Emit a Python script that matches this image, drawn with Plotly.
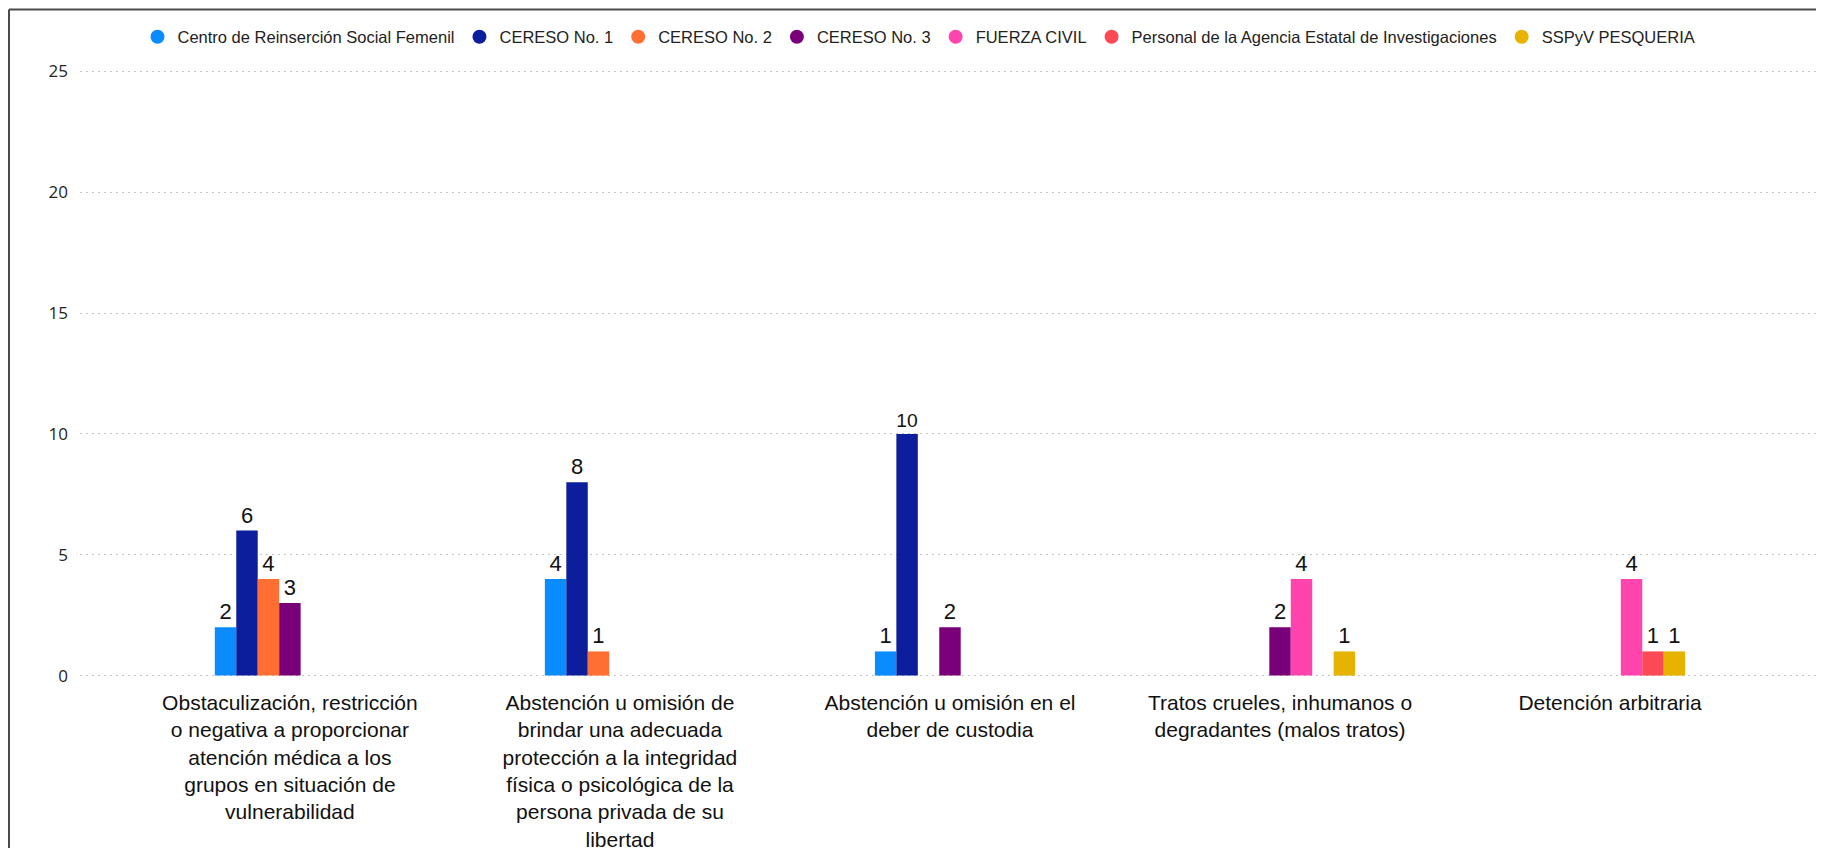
import plotly.graph_objects as go

categories = [
    "Obstaculización, restricción o negativa a proporcionar atención médica a los grupos en situación de vulnerabilidad",
    "Abstención u omisión de brindar una adecuada protección a la integridad física o psicológica de la persona privada de su libertad",
    "Abstención u omisión en el deber de custodia",
    "Tratos crueles, inhumanos o degradantes (malos tratos)",
    "Detención arbitraria",
]
tick_labels = [
    "Obstaculización, restricción<br>o negativa a proporcionar<br>atención médica a los<br>grupos en situación de<br>vulnerabilidad",
    "Abstención u omisión de<br>brindar una adecuada<br>protección a la integridad<br>física o psicológica de la<br>persona privada de su<br>libertad",
    "Abstención u omisión en el<br>deber de custodia",
    "Tratos crueles, inhumanos o<br>degradantes (malos tratos)",
    "Detención arbitraria",
]

series_names = [
    "Centro de Reinserción Social Femenil",
    "CERESO No. 1",
    "CERESO No. 2",
    "CERESO No. 3",
    "FUERZA CIVIL",
    "Personal de la Agencia Estatal de Investigaciones",
    "SSPyV PESQUERIA",
]
centro_femenil = [2, 4, 1, None, None]
cereso_1 = [6, 8, 10, None, None]
cereso_2 = [4, 1, None, None, None]
cereso_3 = [3, None, 2, 2, None]
fuerza_civil = [None, None, None, 4, 4]
agencia_estatal = [None, None, None, None, 1]
sspyv_pesqueria = [None, None, None, 1, 1]

series_values = [centro_femenil, cereso_1, cereso_2, cereso_3,
                 fuerza_civil, agencia_estatal, sspyv_pesqueria]
colors = ["#0A8CFF", "#0D1E9C", "#FF6E32", "#7A007A", "#FF45AD", "#FB4A56", "#E6B400"]

W, H = 1824, 848
# y: 0 -> 668 px, 25 -> 63 px (figure coordinates), range padded by 0.1
PPU = (668 - 63) / 25.0
T = 63 - 0.1 * PPU
B = H - (668 + 0.1 * PPU)
L, R = 72, 14

FONT = "Liberation Sans, Arial, sans-serif"

fig = go.Figure()
for name, vals, col in zip(series_names, series_values, colors):
    fig.add_trace(go.Bar(
        name=name,
        legendgroup=name,
        showlegend=False,
        x=categories,
        y=vals,
        marker=dict(color=col, line=dict(width=0)),
        text=[("" if v is None else str(v)) for v in vals],
        textposition="outside",
        textfont=dict(family=FONT, size=22, color="#111111"),
        cliponaxis=False,
        hoverinfo="x+y+name",
    ))
# legend entries with round markers, as in the original
for name, col in zip(series_names, colors):
    fig.add_trace(go.Scatter(
        name=name,
        legendgroup=name,
        x=[None], y=[None],
        mode="markers",
        marker=dict(symbol="circle", size=14, color=col),
        showlegend=True,
        hoverinfo="skip",
    ))

fig.update_layout(
    width=W, height=H,
    margin=dict(l=L, r=R, t=T, b=B, pad=0, autoexpand=False),
    paper_bgcolor="white",
    plot_bgcolor="white",
    barmode="group",
    bargap=0.545,
    bargroupgap=0,
    font=dict(family=FONT, color="#111111"),
    legend=dict(
        orientation="h",
        xref="container", yref="container",
        x=911 / W, xanchor="center",
        y=1 - 29 / H, yanchor="middle",
        font=dict(family=FONT, size=16.5, color="#222222"),
        itemwidth=30,
        traceorder="normal",
        bgcolor="rgba(0,0,0,0)",
    ),
    showlegend=True,
)

fig.update_xaxes(
    type="category",
    categoryorder="array",
    categoryarray=categories,
    tickvals=categories,
    ticktext=tick_labels,
    range=[-0.636, 4.630],
    showgrid=False,
    zeroline=False,
    showline=False,
    ticks="",
    tickangle=0,
    automargin=False,
    ticklabelstandoff=10,
    tickfont=dict(family=FONT, size=21, color="#111111"),
)
fig.update_yaxes(
    range=[-0.1, 25.1],
    tickvals=[0, 5, 10, 15, 20, 25],
    showgrid=True,
    gridcolor="#C4C4C4",
    gridwidth=1,
    griddash="2px,4px",
    zeroline=False,
    showline=False,
    ticks="",
    automargin=False,
    ticklabelstandoff=11,
    tickfont=dict(family="Open Sans, Liberation Sans, sans-serif", size=17, color="#252423"),
)

# frame of the visual (top and left edges visible in the screenshot)
pw = W - L - R
ph = H - T - B
x_left = (1 - L) / pw
y_top = 1 + (T - 1) / ph
fig.add_shape(type="line", xref="paper", yref="paper",
              x0=x_left, x1=(W + 10 - L) / pw, y0=y_top, y1=y_top,
              line=dict(color="#4A4A4A", width=2))
fig.add_shape(type="line", xref="paper", yref="paper",
              x0=x_left, x1=x_left, y0=y_top, y1=-(B + 10) / ph,
              line=dict(color="#4A4A4A", width=2))

fig.write_html("out.html")
